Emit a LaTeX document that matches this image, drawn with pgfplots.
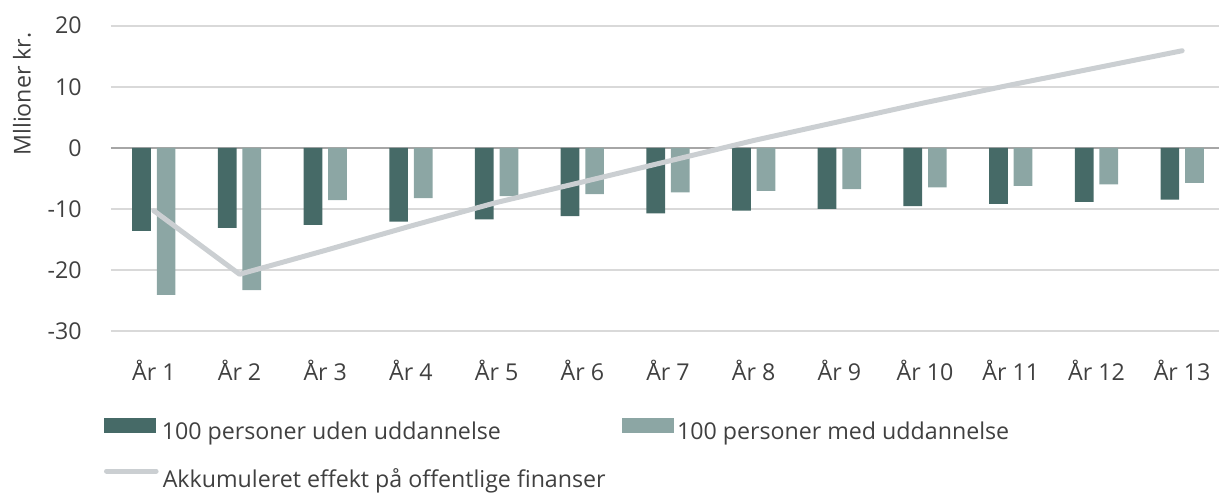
\documentclass[border=0pt]{standalone}
\usepackage{fontspec}
\setmainfont{Open Sans}
\usepackage{pgfplots}
\pgfplotsset{compat=1.18}

\definecolor{darkbar}{HTML}{466A67}
\definecolor{lightbar}{HTML}{8CA6A4}
\definecolor{accline}{HTML}{CBCFD2}
\definecolor{gridc}{HTML}{D9D9D9}
\definecolor{zeroc}{HTML}{A6A6A6}
\definecolor{txt}{HTML}{404040}

\newcommand{\chartfont}{\fontsize{11.6}{13.9}\selectfont}

\pgfplotsset{
  boxlegend/.style={legend image code/.code={\fill[##1] (0pt,0.3pt) rectangle (26pt,7.8pt);}},
  linelegend/.style={legend image code/.code={\draw[##1] (1.2pt,5pt) -- (26pt,5pt);}},
}

\begin{document}
\begin{tikzpicture}
\useasboundingbox (-55.5pt,-80.5pt) rectangle (554pt,165.5pt);
\begin{axis}[
  at={(0,0)}, anchor=south west,
  scale only axis, width=554pt, height=152.65pt,
  xmin=0.5, xmax=13.43, ymin=-30, ymax=20,
  ytick={-30,-20,...,20},
  xtick={1,...,13},
  xticklabels={År 1,År 2,År 3,År 4,År 5,År 6,År 7,År 8,År 9,År 10,År 11,År 12,År 13},
  axis line style={draw=none},
  major tick length=0pt,
  ymajorgrids, grid style={gridc, line width=1pt},
  extra y ticks={0}, extra y tick labels={},
  extra y tick style={grid style={zeroc, line width=1pt}},
  /pgf/number format/assume math mode=true,
  ticklabel style={font=\chartfont, text=txt},
  yticklabel style={anchor=east, inner sep=0pt, xshift=-14.5pt},
  xticklabel style={anchor=base, inner sep=0pt, yshift=-24.5pt},
  ylabel={Mllioner kr.},
  ylabel style={at={(axis description cs:0,0.776)}, anchor=center, yshift=44.5pt, font=\chartfont, text=txt, inner sep=0pt},
  legend columns=2,
  legend cell align=left,
  legend style={draw=none, fill=none, inner sep=0pt, outer sep=0pt,
    at={(axis description cs:0,0)}, anchor=north west, xshift=-3.5pt, yshift=-43.5pt,
    row sep=11.5pt,
    nodes={inner sep=0pt, text height=9pt, text depth=3pt, font=\chartfont, text=txt},
    /tikz/every odd column/.append style={column sep=1.6pt},
    /tikz/every even column/.append style={column sep=0pt}},
]
\addplot[ybar, bar width=9.35pt, bar shift=-6.15pt, fill=darkbar, draw=none, boxlegend] coordinates {
(1,-13.6)(2,-13.1)(3,-12.6)(4,-12.1)(5,-11.7)(6,-11.2)(7,-10.75)(8,-10.3)(9,-9.98)(10,-9.55)(11,-9.17)(12,-8.84)(13,-8.5)};
\addlegendentry{\makebox[230pt][l]{100 personer uden uddannelse}}
\addplot[ybar, bar width=9.35pt, bar shift=6.15pt, fill=lightbar, draw=none, boxlegend] coordinates {
(1,-24.1)(2,-23.3)(3,-8.57)(4,-8.24)(5,-7.9)(6,-7.6)(7,-7.3)(8,-7.04)(9,-6.77)(10,-6.49)(11,-6.22)(12,-6.0)(13,-5.73)};
\addlegendentry{100 personer med uddannelse}
\addplot[sharp plot, accline, line width=2.5pt, line cap=round, line join=round, mark=none, linelegend] coordinates {
(1,-10.3)(2,-20.7)(3,-16.8)(4,-12.8)(5,-8.95)(6,-5.6)(7,-2.2)(8,1.2)(9,4.3)(10,7.4)(11,10.3)(12,13.1)(13,15.9)};
\addlegendentry{\makebox[0pt][l]{Akkumuleret effekt på offentlige finanser}}
\end{axis}
\end{tikzpicture}
\end{document}
